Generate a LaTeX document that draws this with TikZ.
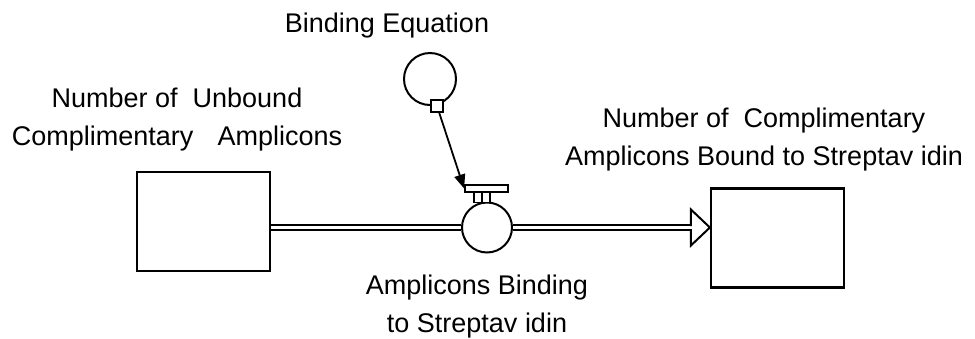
\documentclass[tikz,border=0pt]{standalone}
\usepackage{fontspec}
\setmainfont{Liberation Sans}
\usetikzlibrary{arrows.meta,calc}
\begin{document}
\begin{tikzpicture}[x=1pt,y=-1pt,
  stock/.style={draw,line width=2.2pt,minimum width=133pt,minimum height=99pt,inner sep=0pt,fill=white},
  lbl/.style={font=\fontsize{27}{38}\selectfont,inner sep=0pt,align=center,anchor=base},
  pipe/.style={draw,line width=2pt,double=white,double distance=3pt},
  valve/.style={draw,circle,line width=2pt,minimum size=50pt,inner sep=0pt,fill=white},
  aux/.style={draw,circle,line width=2pt,minimum size=52pt,inner sep=0pt,fill=white},
  tag/.style={draw,line width=1.8pt,minimum size=12pt,inner sep=0pt,fill=white},
  handle/.style={draw,line width=1.8pt,minimum width=43pt,minimum height=7pt,inner sep=0pt,fill=white},
  stem/.style={draw,line width=1.8pt,minimum width=16pt,minimum height=10pt,inner sep=0pt,fill=white},
  link/.style={draw,line width=1.8pt,-{Triangle[length=14pt,width=11pt]}},
  head/.style={draw,line width=2pt,line join=miter}
]
\useasboundingbox (0,0) rectangle (975,338);
% stocks
\node[stock] (L) at (203.5,221.5) {};
\node[stock] (R) at (777.5,238) {};
% pipe and valve
\node[valve] (V) at (487,227.5) {};
\coordinate (ah) at ($(R.west |- V)+(-19,0)$);
\draw[pipe] (V.west -| L.east) -- (V.west);
\draw[pipe] (V.east) -- (ah);
\draw[head] ($(ah)+(0,-1.5)$) -- ($(ah)+(0,-18)$) -- (R.west |- V) -- ($(ah)+(0,18)$) -- ($(ah)+(0,1.5)$);
% valve handle
\node[stem] (T) at (482,197.5) {};
\draw[line width=1.8pt] (T.north) -- (T.south);
\node[handle] (H) at (486.5,188.5) {};
% auxiliary
\node[aux] (A) at (430,79) {};
\node[tag] (S) at (437,106) {};
\draw[link] (S) -- (H.west);
% labels
\node[lbl] (tB) at (387,32) {Binding Equation};
\node[lbl] (tL) at (177,145) {Number of\ \ Unbound\\Complimentary\hspace{0.9em}Amplicons};
\node[lbl] (tR) at (764,165) {Number of\ \ Complimentary\\Amplicons Bound to Streptav idin};
\node[lbl] (tV) at (477,332) {Amplicons Binding\\to Streptav idin};
\end{tikzpicture}
\end{document}
